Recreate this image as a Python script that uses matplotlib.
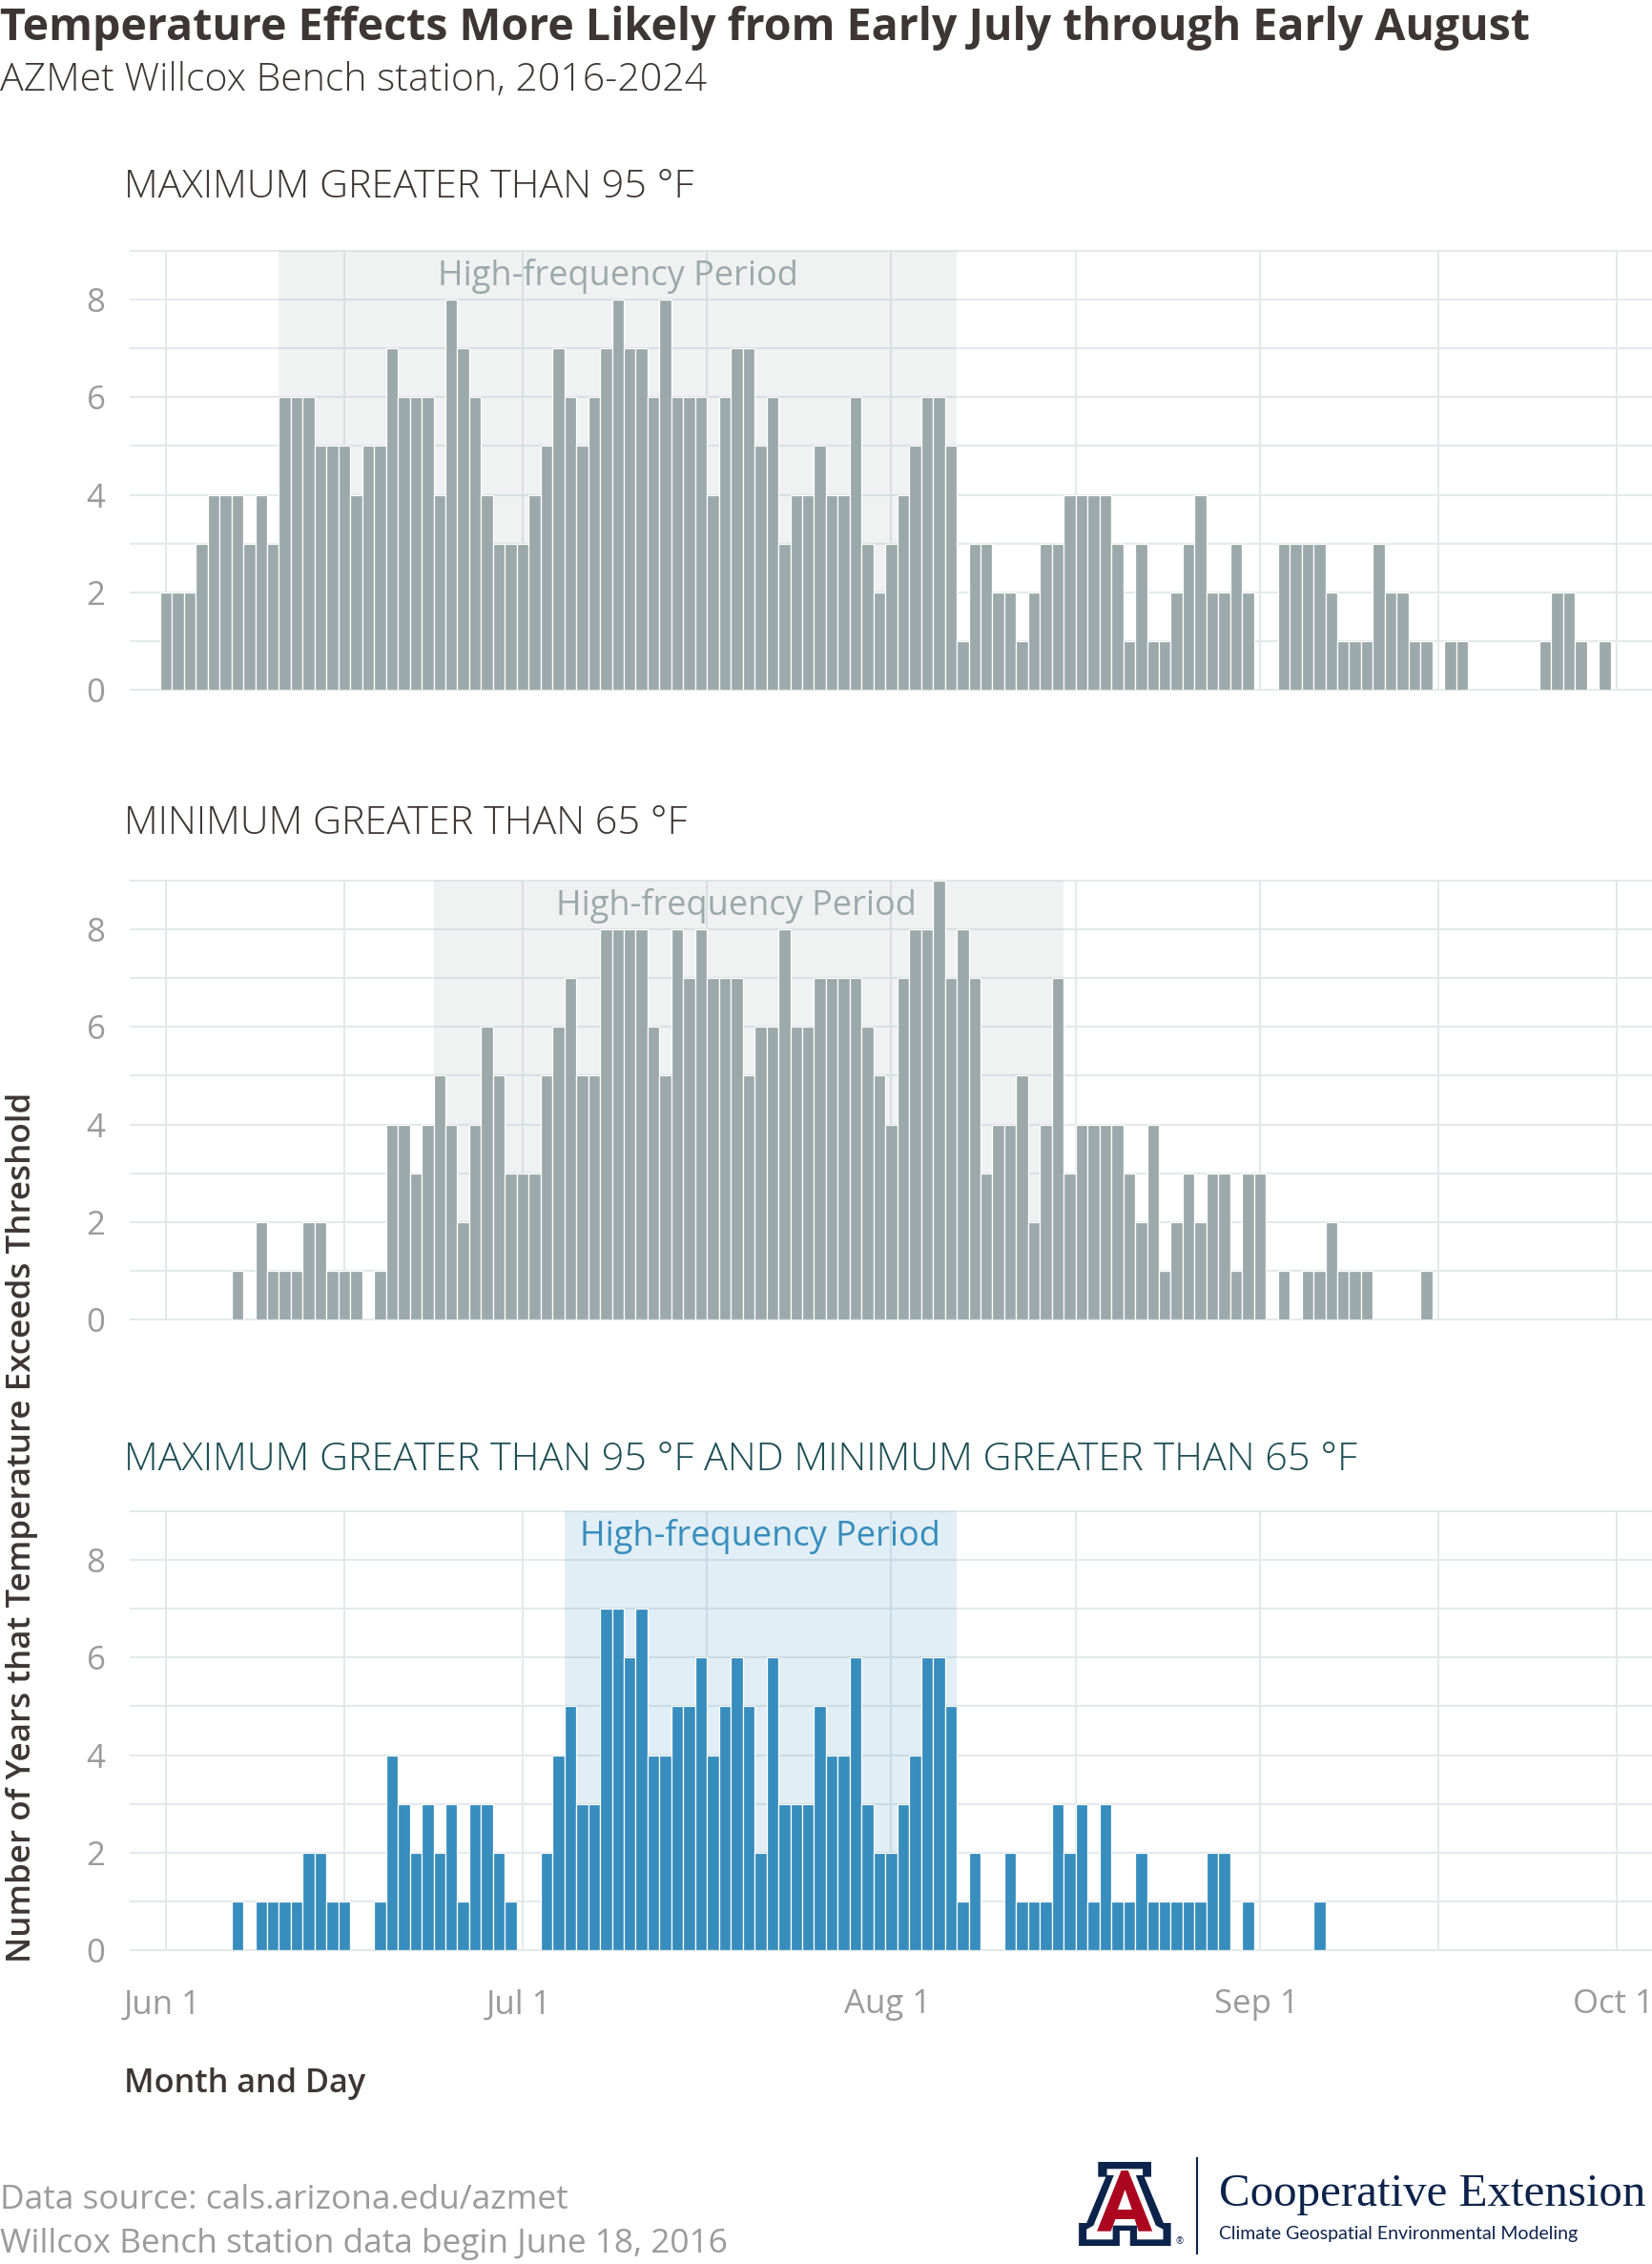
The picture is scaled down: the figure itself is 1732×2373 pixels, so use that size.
import matplotlib
matplotlib.use("Agg")
import matplotlib.pyplot as plt
import matplotlib.dates as mdates
from matplotlib.patches import Polygon
from matplotlib.ticker import FixedLocator, NullFormatter
from matplotlib.transforms import ScaledTranslation
import numpy as np
import pandas as pd

# number of years above threshold, one value per day starting Jun 1
max_counts = [2, 2, 2, 3, 4, 4, 4, 3, 4, 3,
              6, 6, 6, 5, 5, 5, 4, 5, 5, 7,
              6, 6, 6, 4, 8, 7, 6, 4, 3, 3,
              3, 4, 5, 7, 6, 5, 6, 7, 8, 7,
              7, 6, 8, 6, 6, 6, 4, 6, 7, 7,
              5, 6, 3, 4, 4, 5, 4, 4, 6, 3,
              2, 3, 4, 5, 6, 6, 5, 1, 3, 3,
              2, 2, 1, 2, 3, 3, 4, 4, 4, 4,
              3, 1, 3, 1, 1, 2, 3, 4, 2, 2,
              3, 2, 0, 0, 3, 3, 3, 3, 2, 1,
              1, 1, 3, 2, 2, 1, 1, 0, 1, 1,
              0, 0, 0, 0, 0, 0, 1, 2, 2, 1,
              0, 1]
min_counts = [0, 0, 0, 0, 0, 0, 1, 0, 2, 1,
              1, 1, 2, 2, 1, 1, 1, 0, 1, 4,
              4, 3, 4, 5, 4, 2, 4, 6, 5, 3,
              3, 3, 5, 6, 7, 5, 5, 8, 8, 8,
              8, 6, 5, 8, 7, 8, 7, 7, 7, 5,
              6, 6, 8, 6, 6, 7, 7, 7, 7, 6,
              5, 4, 7, 8, 8, 9, 7, 8, 7, 3,
              4, 4, 5, 2, 4, 7, 3, 4, 4, 4,
              4, 3, 2, 4, 1, 2, 3, 2, 3, 3,
              1, 3, 3, 0, 1, 0, 1, 1, 2, 1,
              1, 1, 0, 0, 0, 0, 1]
both_counts = [0, 0, 0, 0, 0, 0, 1, 0, 1, 1,
               1, 1, 2, 2, 1, 1, 0, 0, 1, 4,
               3, 2, 3, 2, 3, 1, 3, 3, 2, 1,
               0, 0, 2, 4, 5, 3, 3, 7, 7, 6,
               7, 4, 4, 5, 5, 6, 4, 5, 6, 5,
               2, 6, 3, 3, 3, 5, 4, 4, 6, 3,
               2, 2, 3, 4, 6, 6, 5, 1, 2, 0,
               0, 2, 1, 1, 1, 3, 2, 3, 1, 3,
               1, 1, 2, 1, 1, 1, 1, 1, 2, 2,
               0, 1, 0, 0, 0, 0, 0, 1]

panel_titles = ["MAXIMUM GREATER THAN 95 °F",
                "MINIMUM GREATER THAN 65 °F",
                "MAXIMUM GREATER THAN 95 °F AND MINIMUM GREATER THAN 65 °F"]
# day offsets from Jun 1 for the shaded period and its label
period_start = [9.5, 22.5, 33.5]
period_end = [66.5, 75.5, 66.5]
label_day = [38, 48, 50]

month_starts = ["2024-06-01", "2024-07-01", "2024-08-01", "2024-09-01", "2024-10-01"]
month_labels = ["Jun 1", "Jul 1", "Aug 1", "Sep 1", "Oct 1"]

W, H = 1733, 2373
GRAY = "#9ca9ab"
BLUE = "#378dbd"
GRID = "#e3e9eb"
DARK = "#3d3635"
TICK = "#9b9b9b"
NAVY = "#0c234b"
RED = "#ab0520"

plt.rcParams["font.family"] = ["Open Sans", "DejaVu Sans"]

fig = plt.figure(figsize=(W / 100, H / 100), dpi=100, facecolor="white")


def put(x, y, s, **kw):
    return fig.text(x / W, 1 - y / H, s, **kw)


jun1 = mdates.date2num(pd.Timestamp("2024-06-01"))
majors = mdates.date2num(pd.to_datetime(month_starts))
minors = (majors[:-1] + majors[1:]) / 2
x0 = jun1 + (137 - 174) / 12.467
x1 = jun1 + (1733 - 174) / 12.467

series = [max_counts, min_counts, both_counts]
tops = [263, 923, 1584]
title_y = [207, 874, 1541]
for k, counts in enumerate(series):
    top = tops[k]
    ax = fig.add_axes([137 / W, 1 - (top + 460) / H, (W - 137) / W, 460 / H])
    counts = np.array(counts)
    days = jun1 + np.arange(len(counts))
    keep = counts > 0
    is_both = k == 2
    ax.axvspan(jun1 + period_start[k], jun1 + period_end[k],
               color=BLUE if is_both else GRAY, alpha=0.15, lw=0, zorder=2)
    ax.bar(days[keep], counts[keep], width=1, color=BLUE if is_both else GRAY,
           edgecolor="white", linewidth=0.9, zorder=3)
    ax.set_xlim(x0, x1)
    ax.set_ylim(0, 9)
    ax.xaxis.set_major_locator(FixedLocator(majors))
    ax.xaxis.set_minor_locator(FixedLocator(minors))
    ax.xaxis.set_minor_formatter(NullFormatter())
    ax.yaxis.set_major_locator(FixedLocator([0, 2, 4, 6, 8]))
    ax.yaxis.set_minor_locator(FixedLocator([1, 3, 5, 7, 9]))
    ax.grid(which="both", color=GRID, linewidth=1.5, zorder=1)
    ax.set_axisbelow(True)
    ax.tick_params(which="both", length=0)
    ax.tick_params(axis="y", labelsize=25, labelcolor=TICK, pad=19)
    if is_both:
        ax.set_xticklabels(month_labels)
        ax.tick_params(axis="x", labelsize=25, labelcolor=TICK, pad=29)
        # labels sit a little left of their grid lines
        shift = ScaledTranslation(-4 / 100, 0, fig.dpi_scale_trans)
        for lab in ax.get_xticklabels():
            lab.set_transform(lab.get_transform() + shift)
    else:
        ax.tick_params(axis="x", labelbottom=False)
    for sp in ax.spines.values():
        sp.set_visible(False)
    for t in ax.yaxis.get_major_ticks() + ax.yaxis.get_minor_ticks():
        t.gridline.set_clip_on(False)
    ax.text(jun1 + label_day[k], 8.49, "High-frequency Period", ha="center", va="center",
            fontsize=26, color=BLUE if is_both else GRAY, zorder=4)
    put(130, title_y[k], panel_titles[k], fontsize=29.8, fontweight="light",
        color="#1d4f55" if is_both else DARK, va="baseline")

put(0, 42, "Temperature Effects More Likely from Early July through Early August",
    fontsize=33.5, fontweight="bold", color=DARK, va="baseline")
put(0, 95, "AZMet Willcox Bench station, 2016-2024", fontsize=29.5, fontweight="light",
    color=DARK, va="baseline")
put(23, 1601, "Number of Years that Temperature Exceeds Threshold", fontsize=25.2,
    fontweight="semibold", color=DARK, rotation=90, ha="center", va="center")
put(130, 2193, "Month and Day", fontsize=24.7, fontweight="semibold", color=DARK, va="baseline")
put(0, 2315, "Data source: cals.arizona.edu/azmet", fontsize=25.4, color=TICK, va="baseline")
put(0, 2361, "Willcox Bench station data begin June 18, 2016", fontsize=25.4, color=TICK,
    va="baseline")

# logo, in pixel coordinates of a crop around it
logo_outer = [(127, 78), (265, 78), (265, 125), (247, 125), (297, 270), (316, 270), (316, 342),
              (210, 342), (210, 294), (183, 294), (183, 342), (77, 342), (77, 270), (97, 270),
              (147, 125), (127, 125)]
logo_white = [(150, 100), (243, 100), (243, 120), (225, 120), (277, 278), (296, 290), (296, 322),
              (228, 322), (228, 278), (165, 278), (165, 322), (97, 322), (97, 290), (115, 278),
              (168, 120), (150, 120)]
logo_red = [(187, 105), (205, 105), (268, 296), (232, 296), (222, 258), (172, 258), (160, 296),
            (124, 296)]
logo_hole = [(197, 165), (215, 228), (178, 228)]


def logo_pts(pts):
    return [((1100 + cx / 2.477) / W, 1 - (2240 + cy / 3) / H) for cx, cy in pts]


for pts, col in [(logo_outer, NAVY), (logo_white, "white"), (logo_red, RED), (logo_hole, "white")]:
    fig.add_artist(Polygon(logo_pts(pts), closed=True, facecolor=col, edgecolor="none"))
fig.add_artist(plt.Line2D([1255 / W, 1255 / W], [1 - 2262 / H, 1 - 2362 / H], color=NAVY, lw=1.5))
put(1233, 2352, "®", fontsize=7, color=NAVY, ha="left", va="baseline")
put(1278, 2312, "Cooperative Extension", fontsize=35.3, family="Liberation Serif", color=NAVY,
    va="baseline")
put(1278, 2347, "Climate Geospatial Environmental Modeling", fontsize=14, family="Lato",
    color=NAVY, va="baseline")

fig.savefig("out.png", dpi=100, facecolor="white")
